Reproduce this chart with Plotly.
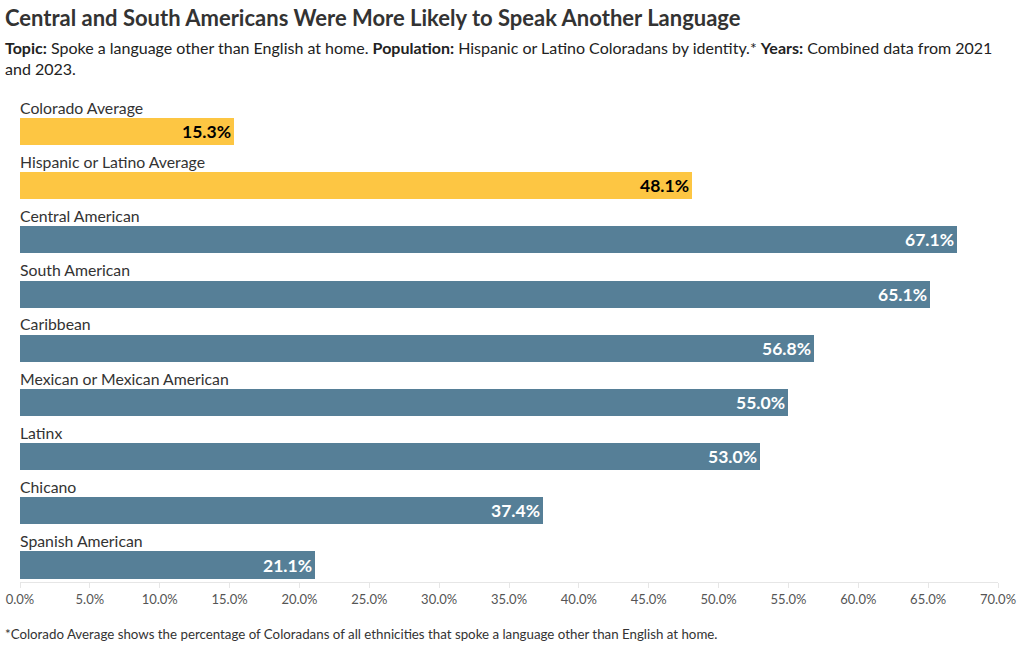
import plotly.graph_objects as go

categories = ["Colorado Average", "Hispanic or Latino Average", "Central American",
              "South American", "Caribbean", "Mexican or Mexican American",
              "Latinx", "Chicano", "Spanish American"]
values = [15.3, 48.1, 67.1, 65.1, 56.8, 55.0, 53.0, 37.4, 21.1]
is_average = [True, True, False, False, False, False, False, False, False]
tick_vals = [0, 5, 10, 15, 20, 25, 30, 35, 40, 45, 50, 55, 60, 65, 70]
tick_text = [f"{v:.1f}%" for v in tick_vals]

FONT = "Lato"
YELLOW = "#FDC643"
BLUE = "#567F97"

W, H = 1020, 650
L, R, T, B = 20, 22, 95, 68
plot_h = H - T - B
plot_w = W - L - R

def py(p):
    return (H - B - p) / plot_h

def px(p):
    return (p - L) / plot_w

ypos = list(range(len(categories)))
colors = [YELLOW if a else BLUE for a in is_average]
tcolors = ["#000000" if a else "#FFFFFF" for a in is_average]

fig = go.Figure()
fig.add_trace(go.Bar(
    x=values, y=ypos, orientation="h", width=0.5,
    marker=dict(color=colors, line=dict(width=0)),
    text=[f"{v:.1f}%" for v in values],
    textposition="inside", insidetextanchor="end",
    textfont=dict(family=FONT, size=17.5, color=tcolors, weight="bold"),
    cliponaxis=False, hoverinfo="skip",
))

annotations = []
for i, c in enumerate(categories):
    annotations.append(dict(x=0, y=i - 0.45, xref="x", yref="y", text=c,
                            showarrow=False, xanchor="left", yanchor="middle",
                            xshift=-2,
                            font=dict(family=FONT, size=15.8, color="#333333")))

annotations.append(dict(x=px(3), y=py(18), xref="paper", yref="paper",
                        text="<b>Central and South Americans Were More Likely to Speak Another Language</b>",
                        showarrow=False, xanchor="left", yanchor="middle",
                        font=dict(family=FONT, size=22, color="#333333")))
annotations.append(dict(x=px(3), y=py(36), xref="paper", yref="paper",
                        text="<b>Topic:</b> Spoke a language other than English at home. <b>Population:</b> Hispanic or Latino Coloradans by identity.* <b>Years:</b> Combined data from 2021<br>and 2023.",
                        showarrow=False, xanchor="left", yanchor="top", align="left",
                        font=dict(family=FONT, size=16, color="#222222")))
annotations.append(dict(x=px(3), y=py(634), xref="paper", yref="paper",
                        text="*Colorado Average shows the percentage of Coloradans of all ethnicities that spoke a language other than English at home.",
                        showarrow=False, xanchor="left", yanchor="middle",
                        font=dict(family=FONT, size=13.3, color="#333333")))

y0 = -0.674
y1 = 8.313
fig.update_layout(
    width=W, height=H,
    margin=dict(l=L, r=R, t=T, b=B, autoexpand=False),
    paper_bgcolor="white", plot_bgcolor="white",
    showlegend=False,
    bargap=0,
    xaxis=dict(range=[0, 70], tickvals=tick_vals, ticktext=tick_text,
               automargin=False,
               showgrid=False, zeroline=False, showline=True, linecolor="#E6E6E6",
               ticks="outside", ticklen=5, tickcolor="#E6E6E6",
               tickfont=dict(family=FONT, size=13, color="#555555")),
    yaxis=dict(range=[y1, y0], showticklabels=False, showgrid=False,
               automargin=False,
               zeroline=False, showline=False),
    annotations=annotations,
)

fig.write_html("out.html", config={"displayModeBar": False},
               post_script="document.body.style.margin='0';document.body.style.padding='0';")
